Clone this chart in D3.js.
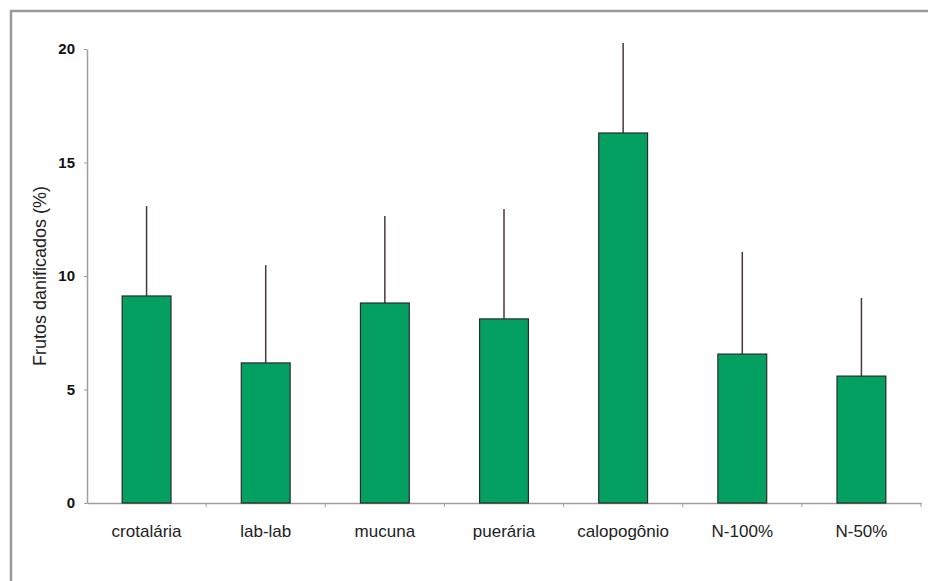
<!DOCTYPE html>
<html>
<head>
<meta charset="utf-8">
<script src="https://cdn.jsdelivr.net/npm/d3@7"></script>
<style>
  html, body { margin: 0; padding: 0; background: #fff; }
  svg { display: block; font-family: Arial, "Liberation Sans", sans-serif; }
</style>
</head>
<body>
<div id="chart"></div>
<script>
// Data
const categories = ['crotalária', 'lab-lab', 'mucuna', 'puerária', 'calopogônio', 'N-100%', 'N-50%'];
const means = [9.12, 6.17, 8.81, 8.11, 16.30, 6.56, 5.59];
const errors = [3.96, 4.31, 3.83, 4.84, 3.96, 4.50, 3.44];
const yTicks = [0, 5, 10, 15, 20];
const yTitle = 'Frutos danificados (%)';

const width = 928;
const height = 581;
const margin = { top: 49, right: 7, bottom: 78, left: 87 };
const axisColor = '#a69a9a';

const svg = d3.select('#chart').append('svg')
  .attr('width', width)
  .attr('height', height);

// Outer frame (runs off the right and bottom edges)
svg.append('rect')
  .attr('x', 11)
  .attr('y', 11)
  .attr('width', width)
  .attr('height', height)
  .attr('fill', 'none')
  .attr('stroke', '#9a9a9a')
  .attr('stroke-width', 2.5);

const x = d3.scaleBand()
  .domain(categories)
  .range([margin.left, width - margin.right])
  .paddingInner(0.59)
  .paddingOuter(0.295);

const y = d3.scaleLinear()
  .domain([0, 20])
  .range([height - margin.bottom, margin.top]);

// Y axis
const yAxis = svg.append('g')
  .attr('transform', `translate(${margin.left},0)`)
  .call(d3.axisLeft(y).tickValues(yTicks).tickSize(3).tickPadding(9).tickSizeOuter(0));
yAxis.select('.domain').attr('stroke', axisColor).attr('stroke-width', 1.5);
yAxis.selectAll('.tick line').attr('stroke', axisColor);
yAxis.selectAll('.tick text')
  .attr('fill', '#111')
  .attr('font-size', 15)
  .attr('font-weight', 'bold')
  .attr('font-family', 'Arial, "Liberation Sans", sans-serif');

// X axis (labels centred on the bars, ticks between categories)
const y0 = y(0);
const xAxis = svg.append('g')
  .attr('transform', `translate(0,${y0})`)
  .call(d3.axisBottom(x).tickSize(0).tickPadding(22).tickSizeOuter(0));
xAxis.select('.domain').attr('stroke', axisColor).attr('stroke-width', 1.5);
xAxis.selectAll('.tick text')
  .attr('fill', '#222')
  .attr('font-size', 17)
  .attr('font-family', 'Arial, "Liberation Sans", sans-serif');

const step = x.step();
const boundaries = categories.map(c => x(c) + x.bandwidth() / 2 + step / 2);
svg.append('g')
  .selectAll('line')
  .data(boundaries)
  .join('line')
  .attr('x1', d => d)
  .attr('x2', d => d)
  .attr('y1', y0)
  .attr('y2', y0 + 4)
  .attr('stroke', axisColor);

// Y title
svg.append('text')
  .attr('transform', `translate(41,${(y(0) + y(20)) / 2}) rotate(-90)`)
  .attr('text-anchor', 'middle')
  .attr('dominant-baseline', 'middle')
  .attr('font-size', 18)
  .attr('fill', '#222')
  .text(yTitle);

// Error bars (upper only)
svg.append('g')
  .selectAll('line')
  .data(categories)
  .join('line')
  .attr('x1', d => x(d) + x.bandwidth() / 2)
  .attr('x2', d => x(d) + x.bandwidth() / 2)
  .attr('y1', (d, i) => y(means[i]))
  .attr('y2', (d, i) => y(means[i] + errors[i]))
  .attr('stroke', '#4a3838')
  .attr('stroke-width', 1.5);

// Bars
svg.append('g')
  .selectAll('rect')
  .data(categories)
  .join('rect')
  .attr('x', d => x(d))
  .attr('y', (d, i) => y(means[i]))
  .attr('width', x.bandwidth())
  .attr('height', (d, i) => y0 - y(means[i]))
  .attr('fill', '#03a062')
  .attr('stroke', '#2a2a2a')
  .attr('stroke-width', 1.2);
</script>
</body>
</html>
